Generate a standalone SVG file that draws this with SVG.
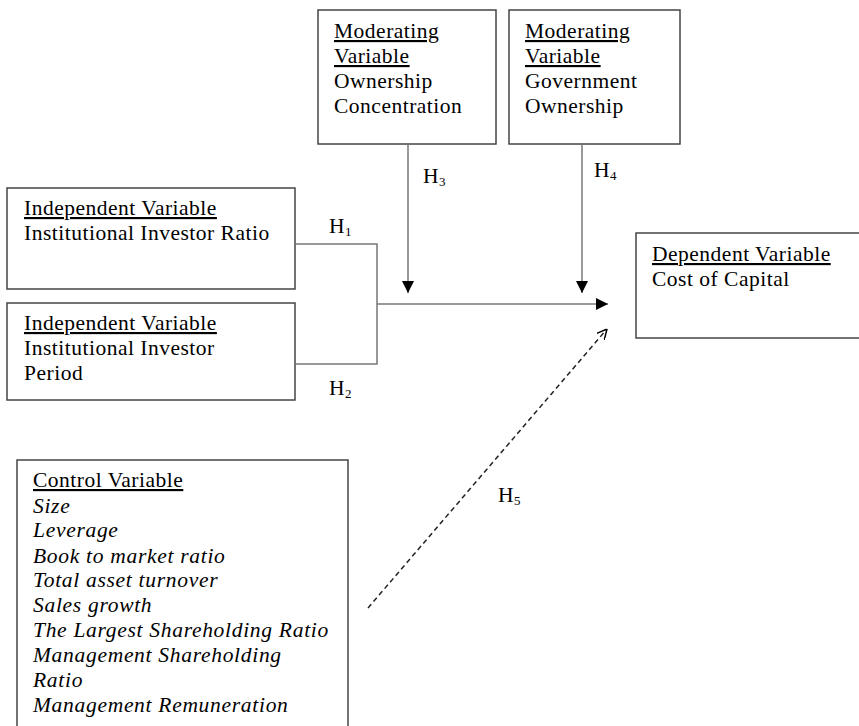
<svg xmlns="http://www.w3.org/2000/svg" width="859" height="726" viewBox="0 0 859 726">
<style>
text{font-family:"Liberation Serif","Times New Roman",serif;font-size:21.5px;fill:#000;letter-spacing:0.5px}
.hd{text-decoration:underline}
.it{font-style:italic;letter-spacing:0.7px}
.box{fill:#fff;stroke:#444;stroke-width:1.5}
.ln{fill:none;stroke:#777;stroke-width:1.5}
.dash{fill:none;stroke:#222;stroke-width:1.5;stroke-dasharray:5 3.5}
.sub{font-size:13px;letter-spacing:0}
</style>
<defs>
<marker id="ah" viewBox="0 0 12 12" refX="12" refY="6" markerWidth="12" markerHeight="12" markerUnits="userSpaceOnUse" orient="auto">
<path d="M0,0 L12,6 L0,12 Z" fill="#000"/>
</marker>
<marker id="oa" viewBox="0 0 10 10" refX="10" refY="5" markerWidth="10" markerHeight="10" markerUnits="userSpaceOnUse" orient="auto">
<path d="M0,0 L10,5 L0,10" fill="none" stroke="#000" stroke-width="1.5"/>
</marker>
</defs>
<g id="connectors">
<path class="ln" d="M296,244 H377 V364 H296"/>
<path class="ln" d="M377,304 H608" marker-end="url(#ah)"/>
<path class="ln" d="M408,145 V293" marker-end="url(#ah)"/>
<path class="ln" d="M582,145 V293" marker-end="url(#ah)"/>
<path class="dash" d="M368,608 L607,329" marker-end="url(#oa)"/>
<text x="329" y="233">H<tspan class="sub" dy="3">1</tspan></text>
<text x="329" y="395">H<tspan class="sub" dy="3">2</tspan></text>
<text x="423" y="183">H<tspan class="sub" dy="3">3</tspan></text>
<text x="594" y="177">H<tspan class="sub" dy="3">4</tspan></text>
<text x="498" y="502">H<tspan class="sub" dy="3">5</tspan></text>
</g>
<g id="iv1">
<rect class="box" x="7" y="188" width="288" height="101"/>
<text x="24" y="215" class="hd">Independent Variable</text>
<text x="24" y="240">Institutional Investor Ratio</text>
</g>
<g id="iv2">
<rect class="box" x="7" y="303" width="288" height="97"/>
<text x="24" y="330" class="hd">Independent Variable</text>
<text x="24" y="355">Institutional Investor</text>
<text x="24" y="380">Period</text>
</g>
<g id="mv1">
<rect class="box" x="318" y="10" width="178" height="134"/>
<text x="334" y="38" class="hd">Moderating</text>
<text x="334" y="63" class="hd">Variable</text>
<text x="334" y="88">Ownership</text>
<text x="334" y="113">Concentration</text>
</g>
<g id="mv2">
<rect class="box" x="509" y="10" width="171" height="134"/>
<text x="525" y="38" class="hd">Moderating</text>
<text x="525" y="63" class="hd">Variable</text>
<text x="525" y="88">Government</text>
<text x="525" y="113">Ownership</text>
</g>
<g id="dv">
<rect class="box" x="636" y="233" width="230" height="105"/>
<text x="652" y="261" class="hd">Dependent Variable</text>
<text x="652" y="286">Cost of Capital</text>
</g>
<g id="cv">
<rect class="box" x="17" y="460" width="331" height="280"/>
<text x="33" y="487" class="hd">Control Variable</text>
<text x="33" y="513" class="it">Size</text>
<text x="33" y="537" class="it">Leverage</text>
<text x="33" y="563" class="it">Book to market ratio</text>
<text x="33" y="587" class="it">Total asset turnover</text>
<text x="33" y="612" class="it">Sales growth</text>
<text x="33" y="637" class="it">The Largest Shareholding Ratio</text>
<text x="33" y="662" class="it">Management Shareholding</text>
<text x="33" y="687" class="it">Ratio</text>
<text x="33" y="712" class="it">Management Remuneration</text>
</g>
</svg>
